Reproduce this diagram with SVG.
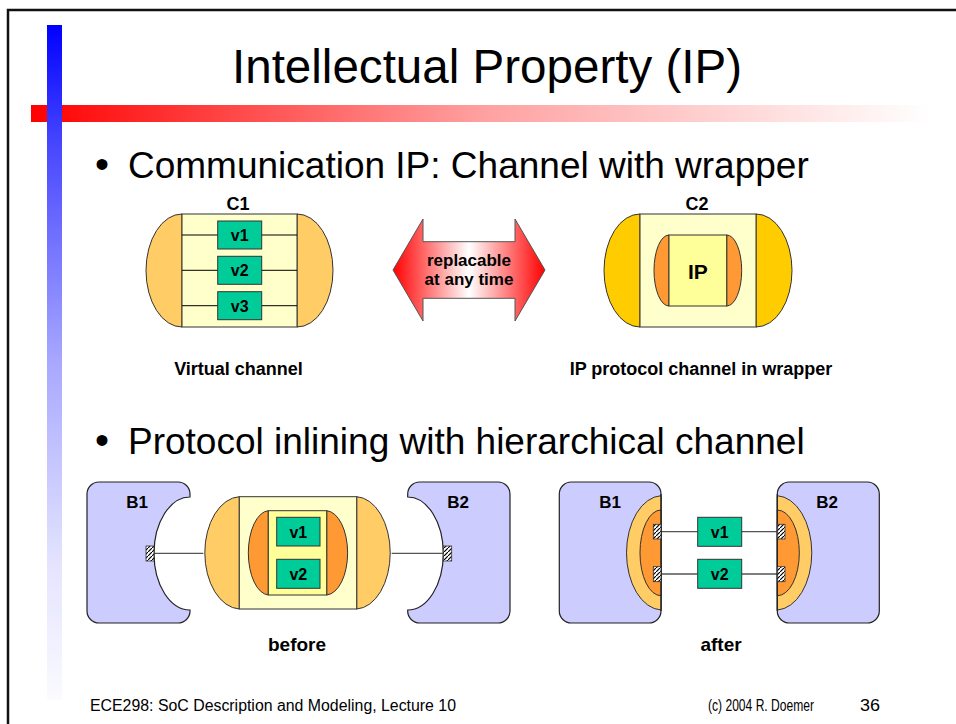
<svg xmlns="http://www.w3.org/2000/svg" width="956" height="724" viewBox="0 0 956 724">
<defs>
<linearGradient id="gBlue" x1="0" y1="25" x2="0" y2="700" gradientUnits="userSpaceOnUse">
<stop offset="0" stop-color="#0000FF"/><stop offset="0.18" stop-color="#4848FF"/><stop offset="0.5" stop-color="#A8A8FF"/><stop offset="0.8" stop-color="#E4E4FF"/><stop offset="1" stop-color="#FAFAFF"/>
</linearGradient>
<linearGradient id="gRed" x1="31" y1="0" x2="930" y2="0" gradientUnits="userSpaceOnUse">
<stop offset="0" stop-color="#FF0000"/><stop offset="0.5" stop-color="#FFA0A0"/><stop offset="1" stop-color="#FFFFFF"/>
</linearGradient>
<linearGradient id="gArrow" x1="393" y1="0" x2="545" y2="0" gradientUnits="userSpaceOnUse">
<stop offset="0" stop-color="#FF0000"/><stop offset="0.22" stop-color="#FF7070"/><stop offset="0.5" stop-color="#FFFFFF"/><stop offset="0.78" stop-color="#FF7070"/><stop offset="1" stop-color="#FF0000"/>
</linearGradient>
<pattern id="hatch" width="4" height="4" patternUnits="userSpaceOnUse">
<rect width="4" height="4" fill="#FFFFFF"/><path d="M0,4 L4,0" stroke="#000" stroke-width="1.2"/>
</pattern>
<style>
.t{font-family:"Liberation Sans",Arial,sans-serif;fill:#000}
.b{font-family:"Liberation Sans",Arial,sans-serif;font-weight:bold;fill:#000}
.ln{stroke:#000;stroke-width:1;}
.cap1{fill:#FFCC66;stroke:#333;stroke-width:1}
.cap2{fill:#FFCC00;stroke:#333;stroke-width:1}
.capi{fill:#FF9933;stroke:#333;stroke-width:1}
.body{fill:#FFFFCC;stroke:#333;stroke-width:1}
.bodyi{fill:#FFFF99;stroke:#333;stroke-width:1}
.v{fill:#00CC99;stroke:#333;stroke-width:1}
.blk{fill:#CCCCFF;stroke:#222;stroke-width:1.2}
.port{fill:url(#hatch);stroke:#333;stroke-width:0.8}
.wire{stroke:#555;stroke-width:1.3;fill:none}
</style>
</defs>
<rect x="0" y="0" width="956" height="724" fill="#FFFFFF"/>
<rect x="8" y="10" width="970" height="740" fill="none" stroke="#111" stroke-width="2.5"/>
<rect x="31" y="105" width="899" height="17" fill="url(#gRed)"/>
<rect x="47" y="25" width="15" height="675" fill="url(#gBlue)"/>

<text class="t" x="487" y="83" font-size="48" text-anchor="middle" textLength="510" lengthAdjust="spacingAndGlyphs">Intellectual Property (IP)</text>

<text class="t" x="95" y="178" font-size="40">•</text>
<text class="t" x="128" y="178" font-size="37">Communication IP: Channel with wrapper</text>
<text class="t" x="95" y="454" font-size="40">•</text>
<text class="t" x="128" y="454" font-size="37">Protocol inlining with hierarchical channel</text>

<g id="C1">
<path class="cap1" d="M182,214 A36,56.5 0 0 0 182,327 Z"/>
<path class="cap1" d="M297,214 A36,56.5 0 0 1 297,327 Z"/>
<rect class="body" x="182" y="214" width="115" height="113"/>
<line class="ln" x1="182" y1="235" x2="297" y2="235"/>
<line class="ln" x1="182" y1="270.3" x2="297" y2="270.3"/>
<line class="ln" x1="182" y1="305.7" x2="297" y2="305.7"/>
<text class="b" x="238" y="210" font-size="18" text-anchor="middle">C1</text>
</g>
<g id="C1v1"><rect class="v" x="217.7" y="221" width="44" height="28"/><text class="b" x="239.7" y="241" font-size="16" text-anchor="middle">v1</text></g>
<g id="C1v2"><rect class="v" x="217.7" y="256.3" width="44" height="28"/><text class="b" x="239.7" y="276.3" font-size="16" text-anchor="middle">v2</text></g>
<g id="C1v3"><rect class="v" x="217.7" y="291.7" width="44" height="28"/><text class="b" x="239.7" y="311.7" font-size="16" text-anchor="middle">v3</text></g>
<text class="b" x="238.5" y="375" font-size="18" text-anchor="middle">Virtual channel</text>

<g id="arrow">
<path d="M393,270 L423,219 L423,241.7 L515,241.7 L515,219 L545,270 L515,321 L515,298.3 L423,298.3 L423,321 Z" fill="url(#gArrow)" stroke="#555" stroke-width="1"/>
<text class="b" x="469" y="266" font-size="17" text-anchor="middle">replacable</text>
<text class="b" x="469" y="285" font-size="17" text-anchor="middle">at any time</text>
</g>

<g id="C2">
<path class="cap2" d="M640,214 A36,56.5 0 0 0 640,327 Z"/>
<path class="cap2" d="M756,214 A36,56.5 0 0 1 756,327 Z"/>
<rect class="body" x="640" y="214" width="116" height="113"/>
<text class="b" x="697" y="210" font-size="18" text-anchor="middle">C2</text>
</g>
<g id="IP">
<path class="capi" d="M669,235 A15,35.5 0 0 0 669,306 Z"/>
<path class="capi" d="M726.7,235 A15,35.5 0 0 1 726.7,306 Z"/>
<rect class="bodyi" x="669" y="235" width="57.7" height="71"/>
<text class="b" x="697.8" y="279" font-size="21" text-anchor="middle">IP</text>
</g>
<text class="b" x="701" y="375" font-size="18" text-anchor="middle">IP protocol channel in wrapper</text>

<g id="connectors">
<line class="wire" x1="154" y1="553.3" x2="203.3" y2="553.3"/>
<line class="wire" x1="391.7" y1="553.3" x2="443.3" y2="553.3"/>
<line class="wire" x1="268.3" y1="531.7" x2="276.7" y2="531.7"/>
<line class="wire" x1="320" y1="531.7" x2="326.7" y2="531.7"/>
<line class="wire" x1="268.3" y1="573.8" x2="276.7" y2="573.8"/>
<line class="wire" x1="320" y1="573.8" x2="326.7" y2="573.8"/>
<line class="wire" x1="661" y1="531.7" x2="697.7" y2="531.7"/>
<line class="wire" x1="741.7" y1="531.7" x2="777.3" y2="531.7"/>
<line class="wire" x1="661" y1="574" x2="697.7" y2="574"/>
<line class="wire" x1="741.7" y1="574" x2="777.3" y2="574"/>
</g>

<g id="B1before">
<path class="blk" d="M99,482 H178 A12,12 0 0 1 190,494 V497 A36,56.5 0 0 0 190,610 V611 A12,12 0 0 1 178,623 H99 A12,12 0 0 1 87,611 V494 A12,12 0 0 1 99,482 Z"/>
<rect class="port" x="146" y="546" width="8" height="15"/>
<text class="b" x="137" y="508" font-size="17" text-anchor="middle">B1</text>
</g>
<g id="chanBefore">
<path class="cap1" d="M239.3,496.7 A36,56.2 0 0 0 239.3,609 Z"/>
<path class="cap1" d="M356.7,496.7 A35,56.2 0 0 1 356.7,609 Z"/>
<rect class="body" x="239.3" y="496.7" width="117.4" height="112.3"/>
<path class="capi" d="M268.3,510.7 A21,42.2 0 0 0 268.3,595 Z"/>
<path class="capi" d="M326.7,510.7 A22,42.2 0 0 1 326.7,595 Z"/>
<rect class="bodyi" x="268.3" y="510.7" width="58.4" height="84.3"/>
</g>
<g id="v1before"><rect class="v" x="276.7" y="517.3" width="43.3" height="28.7"/><text class="b" x="298.3" y="537.5" font-size="16" text-anchor="middle">v1</text></g>
<g id="v2before"><rect class="v" x="276.7" y="559.3" width="43.3" height="29"/><text class="b" x="298.3" y="579.6" font-size="16" text-anchor="middle">v2</text></g>
<g id="B2before">
<path class="blk" d="M419.7,482 H498 A12,12 0 0 1 510,494 V611 A12,12 0 0 1 498,623 H419.7 A12,12 0 0 1 407.7,611 V610 A35.6,56.5 0 0 0 407.7,497 V494 A12,12 0 0 1 419.7,482 Z"/>
<rect class="port" x="443.3" y="546" width="8.4" height="15"/>
<text class="b" x="458" y="508" font-size="17" text-anchor="middle">B2</text>
</g>
<text class="b" x="297" y="651" font-size="19" text-anchor="middle">before</text>

<g id="B1after">
<rect class="blk" x="559.3" y="482" width="101.7" height="141" rx="12"/>
<path class="cap1" d="M661,495.7 A36,57.2 0 0 0 661,610 Z"/>
<path class="capi" d="M661,510 A21,42.8 0 0 0 661,595.7 Z"/>
<line x1="661" y1="494" x2="661" y2="611" stroke="#222" stroke-width="1.2"/>
<rect class="port" x="653.3" y="524.3" width="7.7" height="14.7"/>
<rect class="port" x="653.3" y="566.7" width="7.7" height="15"/>
<text class="b" x="610" y="508" font-size="17" text-anchor="middle">B1</text>
</g>
<g id="v1after"><rect class="v" x="697.7" y="517.3" width="44" height="29"/><text class="b" x="719.7" y="537.6" font-size="16" text-anchor="middle">v1</text></g>
<g id="v2after"><rect class="v" x="697.7" y="559.3" width="44" height="29"/><text class="b" x="719.7" y="579.6" font-size="16" text-anchor="middle">v2</text></g>
<g id="B2after">
<rect class="blk" x="777.3" y="482" width="102" height="141" rx="12"/>
<path class="cap1" d="M777.3,495.7 A36,57.2 0 0 1 777.3,610 Z"/>
<path class="capi" d="M777.3,510 A22,42.8 0 0 1 777.3,595.7 Z"/>
<line x1="777.3" y1="494" x2="777.3" y2="611" stroke="#222" stroke-width="1.2"/>
<rect class="port" x="777.3" y="524.3" width="7.7" height="14.7"/>
<rect class="port" x="777.3" y="566.7" width="7.7" height="15"/>
<text class="b" x="827" y="508" font-size="17" text-anchor="middle">B2</text>
</g>
<text class="b" x="721" y="651" font-size="19" text-anchor="middle">after</text>

<text class="t" x="90" y="711" font-size="16" textLength="366" lengthAdjust="spacingAndGlyphs">ECE298: SoC Description and Modeling, Lecture 10</text>
<text class="t" x="708" y="711" font-size="16" textLength="106" lengthAdjust="spacingAndGlyphs">(c) 2004 R. Doemer</text>
<text class="t" x="860" y="711" font-size="16" textLength="20" lengthAdjust="spacingAndGlyphs">36</text>
</svg>
